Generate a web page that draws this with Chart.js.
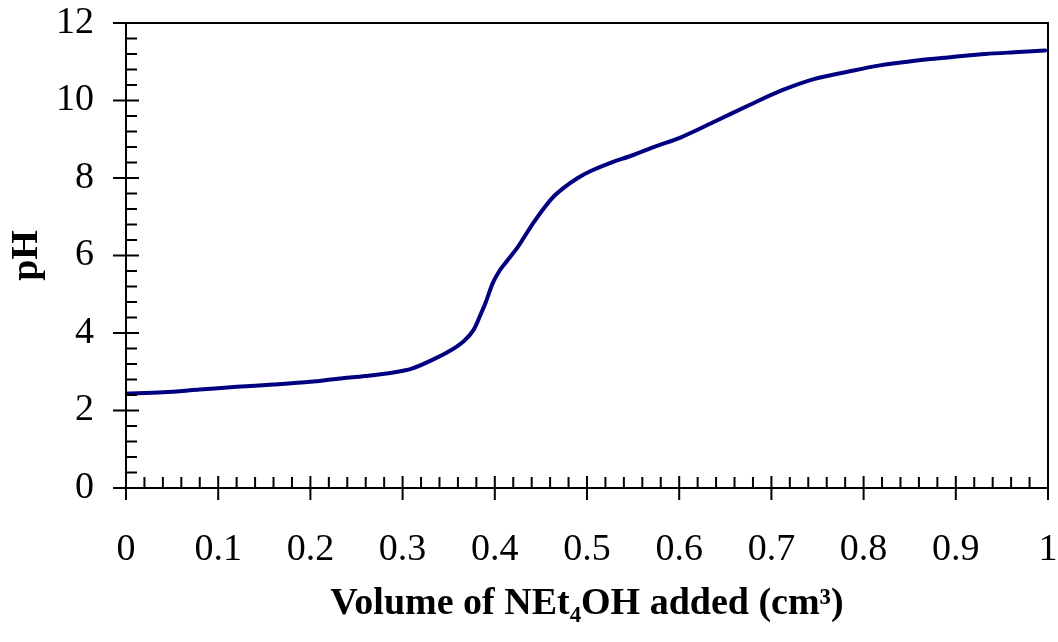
<!DOCTYPE html>
<html>
<head>
<meta charset="utf-8">
<script src="https://cdn.jsdelivr.net/npm/chart.js@4/dist/chart.umd.min.js"></script>
<style>
  html, body { margin: 0; padding: 0; background: #fff; }
</style>
</head>
<body>
<canvas id="titration" width="1058" height="642"></canvas>
<script>
// Titration curve data
const volume = [0, 0.04, 0.08, 0.12, 0.16, 0.2, 0.23, 0.26, 0.29, 0.31, 0.33, 0.35,
  0.366, 0.377, 0.385, 0.39, 0.398, 0.405, 0.413, 0.425, 0.442, 0.461, 0.475, 0.49,
  0.504, 0.522, 0.551, 0.575, 0.602, 0.638, 0.675, 0.711, 0.747, 0.784, 0.816, 0.86,
  0.896, 0.932, 0.968, 0.997];
const pH = [2.44, 2.47, 2.54, 2.61, 2.67, 2.74, 2.82, 2.89, 2.98, 3.08, 3.28, 3.52,
  3.78, 4.08, 4.5, 4.78, 5.3, 5.6, 5.85, 6.22, 6.85, 7.45, 7.75, 8.0,
  8.18, 8.36, 8.6, 8.82, 9.05, 9.45, 9.87, 10.26, 10.56, 10.75, 10.9, 11.04,
  11.12, 11.2, 11.25, 11.29];

// Tick values
const xTicks = [0, 0.1, 0.2, 0.3, 0.4, 0.5, 0.6, 0.7, 0.8, 0.9, 1];
const yTicks = [0, 2, 4, 6, 8, 10, 12];
const minorPerMajor = 5;

const serif = "'Liberation Serif', 'Times New Roman', serif";

// Box, axis lines and Excel-style tick marks
const axisTicks = {
  id: "axisTicks",
  afterDraw(chart) {
    const { ctx, chartArea: a, scales: { x, y } } = chart;
    ctx.save();
    ctx.strokeStyle = "#000";
    ctx.lineWidth = 2;
    ctx.beginPath();
    ctx.rect(a.left, a.top, a.right - a.left, a.bottom - a.top);

    yTicks.forEach((v, i) => {
      const py = y.getPixelForValue(v);
      ctx.moveTo(a.left - 13, py);
      ctx.lineTo(a.left + 13, py);
      if (i < yTicks.length - 1) {
        const step = (yTicks[i + 1] - v) / minorPerMajor;
        for (let k = 1; k < minorPerMajor; k++) {
          const my = y.getPixelForValue(v + k * step);
          ctx.moveTo(a.left, my);
          ctx.lineTo(a.left + 11, my);
        }
      }
    });

    xTicks.forEach((v, i) => {
      const px = x.getPixelForValue(v);
      ctx.moveTo(px, a.bottom + 12);
      ctx.lineTo(px, a.bottom - 12);
      if (i < xTicks.length - 1) {
        const step = (xTicks[i + 1] - v) / minorPerMajor;
        for (let k = 1; k < minorPerMajor; k++) {
          const mx = x.getPixelForValue(v + k * step);
          ctx.moveTo(mx, a.bottom);
          ctx.lineTo(mx, a.bottom - 11);
        }
      }
    });
    ctx.stroke();
    ctx.restore();
  }
};

// fixed axis sizes, no extra room for label overhang
function fixSize(scale, w, h) {
  if (w) scale.width = w;
  if (h) scale.height = h;
  scale.paddingTop = 0;
  scale.paddingBottom = 0;
  scale.paddingLeft = 0;
  scale.paddingRight = 0;
}

const ctx = document.getElementById("titration").getContext("2d");

const chart = new Chart(ctx, {
  type: "line",
  data: {
    datasets: [{
      data: volume.map((v, i) => ({ x: v, y: pH[i] })),
      borderColor: "#000080",
      borderWidth: 4,
      pointRadius: 0,
      fill: false,
      tension: 0.3,
      borderCapStyle: "round",
      borderJoinStyle: "round"
    }]
  },
  options: {
    responsive: false,
    animation: false,
    layout: { padding: { top: 23, right: 10, left: 0, bottom: 0 } },
    plugins: {
      legend: { display: false },
      tooltip: { enabled: false }
    },
    scales: {
      x: {
        type: "linear",
        min: 0,
        max: 1,
        afterFit(scale) { fixSize(scale, 0, 154); },
        afterBuildTicks(scale) { scale.ticks = xTicks.map(v => ({ value: v })); },
        grid: { display: false, drawTicks: false },
        border: { display: false },
        ticks: {
          color: "#000",
          padding: 39,
          autoSkip: false,
          maxRotation: 0,
          font: { family: serif, size: 38 },
          callback: v => String(Math.round(v * 10) / 10)
        },
        title: {
          display: true,
          text: "Volume of NEt\u2084OH added (cm\u00b3)",
          color: "#000",
          padding: { top: 0, bottom: 15 },
          font: { family: serif, size: 38, weight: "bold" }
        }
      },
      y: {
        min: 0,
        max: 12,
        afterFit(scale) { fixSize(scale, 126, 0); },
        afterBuildTicks(scale) { scale.ticks = yTicks.map(v => ({ value: v })); },
        grid: { display: false, drawTicks: false },
        border: { display: false },
        ticks: {
          color: "#000",
          padding: 32,
          font: { family: serif, size: 38 }
        },
        title: {
          display: true,
          text: "pH",
          color: "#000",
          padding: { top: 4, bottom: 0 },
          font: { family: serif, size: 38, weight: "bold" }
        }
      }
    }
  },
  plugins: [axisTicks]
});
</script>
</body>
</html>
